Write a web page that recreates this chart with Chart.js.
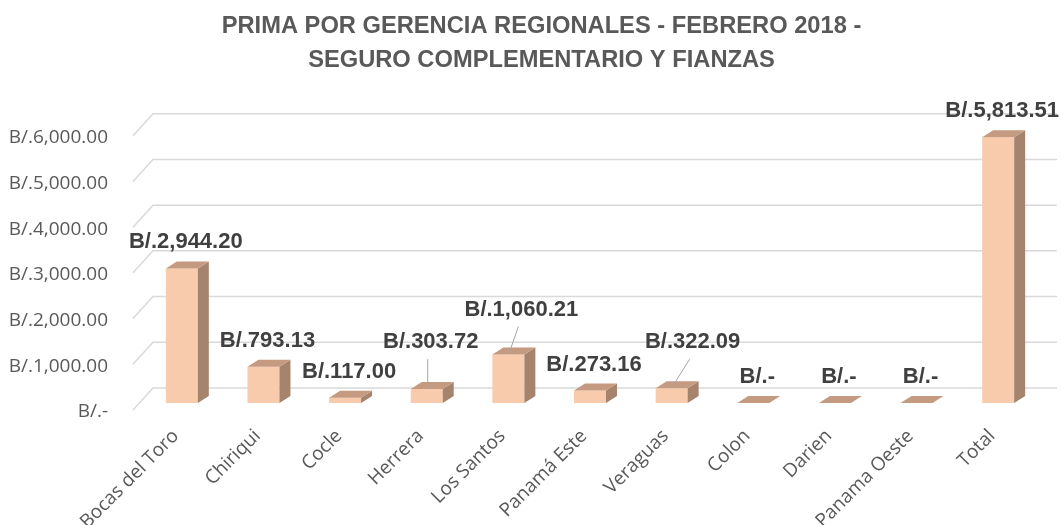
<!DOCTYPE html>
<html>
<head>
<meta charset="utf-8">
<script src="https://cdn.jsdelivr.net/npm/chart.js@4/dist/chart.umd.min.js"></script>
<style>
  html, body { margin: 0; padding: 0; background: #ffffff; }
  #wrap { width: 1061px; height: 525px; }
</style>
</head>
<body>
<div id="wrap"><canvas id="c" width="1061" height="525"></canvas></div>
<script>
// ---- data ----
const categories = ["Bocas del Toro", "Chiriqui", "Cocle", "Herrera", "Los Santos", "Panamá Este", "Veraguas", "Colon", "Darien", "Panama Oeste", "Total"];
const primaValues = [2944.20, 793.13, 117.00, 303.72, 1060.21, 273.16, 322.09, 0, 0, 0, 5813.51];
const yTickValues = [0, 1000, 2000, 3000, 4000, 5000, 6000];
const titleLines = ["PRIMA POR GERENCIA REGIONALES - FEBRERO 2018 -", "SEGURO COMPLEMENTARIO Y FIANZAS"];

// ---- styling ----
const NARROW = '"Liberation Sans Narrow", "Arial Narrow", "Liberation Sans", sans-serif';
const BODY = '"Open Sans", "Noto Sans", sans-serif';
const FRONT = '#F8CBAD', TOP = '#C49A80', SIDE = '#A5836D';
const DEPTH_X = 11, DEPTH_Y = 7;
// manual label nudges (dx, dy) and leader lines, as in the original
const labelNudge = { 3: [0, -21], 4: [9, -19], 6: [17, -20] };

function fmt(v) {
  if (v === 0) return 'B/.-';
  return 'B/.' + v.toLocaleString('en-US', { minimumFractionDigits: 2, maximumFractionDigits: 2 });
}

// title in the original is centred a little right of the canvas centre
const titleShift = {
  id: 'titleShift',
  afterLayout(chart) {
    const t = chart.titleBlock;
    if (t) { t.left = 22; t.right = chart.width; }
  }
};

const backWall = {
  id: 'backWall',
  beforeDatasetsDraw(chart) {
    const { ctx, chartArea, scales } = chart;
    const y = scales.y;
    ctx.save();
    ctx.strokeStyle = '#D9D9D9';
    ctx.lineWidth = 1.5;
    yTickValues.forEach(v => {
      const py = y.getPixelForValue(v);
      ctx.beginPath();
      ctx.moveTo(chartArea.left - 8, py + 7);
      ctx.lineTo(chartArea.left + 12, py - 15);
      ctx.lineTo(chartArea.right + 18, py - 15);
      ctx.stroke();
    });
    ctx.restore();
  }
};

const bars3d = {
  id: 'bars3d',
  afterDatasetsDraw(chart) {
    const { ctx } = chart;
    const meta = chart.getDatasetMeta(0);
    ctx.save();
    meta.data.forEach((bar, i) => {
      const x0 = bar.x - bar.width / 2, x1 = bar.x + bar.width / 2;
      const yt = bar.y, yb = bar.base;
      ctx.fillStyle = SIDE;
      ctx.beginPath();
      ctx.moveTo(x1, yt);
      ctx.lineTo(x1 + DEPTH_X, yt - DEPTH_Y);
      ctx.lineTo(x1 + DEPTH_X, yb - DEPTH_Y);
      ctx.lineTo(x1, yb);
      ctx.closePath();
      ctx.fill();
      ctx.fillStyle = TOP;
      ctx.beginPath();
      ctx.moveTo(x0, yt);
      ctx.lineTo(x1, yt);
      ctx.lineTo(x1 + DEPTH_X, yt - DEPTH_Y);
      ctx.lineTo(x0 + DEPTH_X, yt - DEPTH_Y);
      ctx.closePath();
      ctx.fill();
    });
    ctx.font = 'bold 22px ' + NARROW;
    ctx.textAlign = 'center';
    ctx.textBaseline = 'middle';
    meta.data.forEach((bar, i) => {
      let lx = bar.x + 4, ly = bar.y - DEPTH_Y - 19;
      const n = labelNudge[i];
      if (n) {
        lx += n[0]; ly += n[1];
        ctx.strokeStyle = '#A6A6A6';
        ctx.lineWidth = 1;
        ctx.beginPath();
        ctx.moveTo(lx - 3, ly + 17);
        ctx.lineTo(bar.x + 1, bar.y - 2);
        ctx.stroke();
      }
      ctx.fillStyle = '#404040';
      ctx.fillText(fmt(primaValues[i]), lx, ly);
    });
    ctx.restore();
  }
};

new Chart(document.getElementById('c'), {
  type: 'bar',
  data: {
    labels: categories,
    datasets: [{
      data: primaValues,
      backgroundColor: FRONT,
      borderWidth: 0,
      barPercentage: 0.392,
      categoryPercentage: 1.0
    }]
  },
  options: {
    responsive: false,
    animation: false,
    devicePixelRatio: 1,
    layout: { padding: { left: 0, right: 22, top: 0, bottom: 0 } },
    plugins: {
      legend: { display: false },
      tooltip: { enabled: false },
      title: {
        display: true,
        text: titleLines,
        color: '#595959',
        font: { family: NARROW, size: 23.7, weight: 'bold', lineHeight: 1.45 },
        padding: { top: 9, bottom: 51 }
      }
    },
    scales: {
      x: {
        grid: { display: false, drawTicks: false },
        border: { display: false },
        ticks: {
          autoSkip: false,
          maxRotation: 45, minRotation: 45,
          color: '#595959',
          font: { family: BODY, size: 19 },
          padding: 22,
          labelOffset: -6
        },
        afterFit(scale) { scale.height = 122; }
      },
      y: {
        min: 0, max: 6000,
        grid: { display: false, drawTicks: false },
        border: { display: false },
        afterBuildTicks(scale) { scale.ticks = yTickValues.map(v => ({ value: v })); },
        ticks: {
          color: '#595959',
          font: { family: BODY, size: 19 },
          padding: 33,
          labelOffset: 9,
          callback: (v) => fmt(v)
        },
        afterFit(scale) { scale.width = 141; }
      }
    }
  },
  plugins: [titleShift, backWall, bars3d]
});
</script>
</body>
</html>
